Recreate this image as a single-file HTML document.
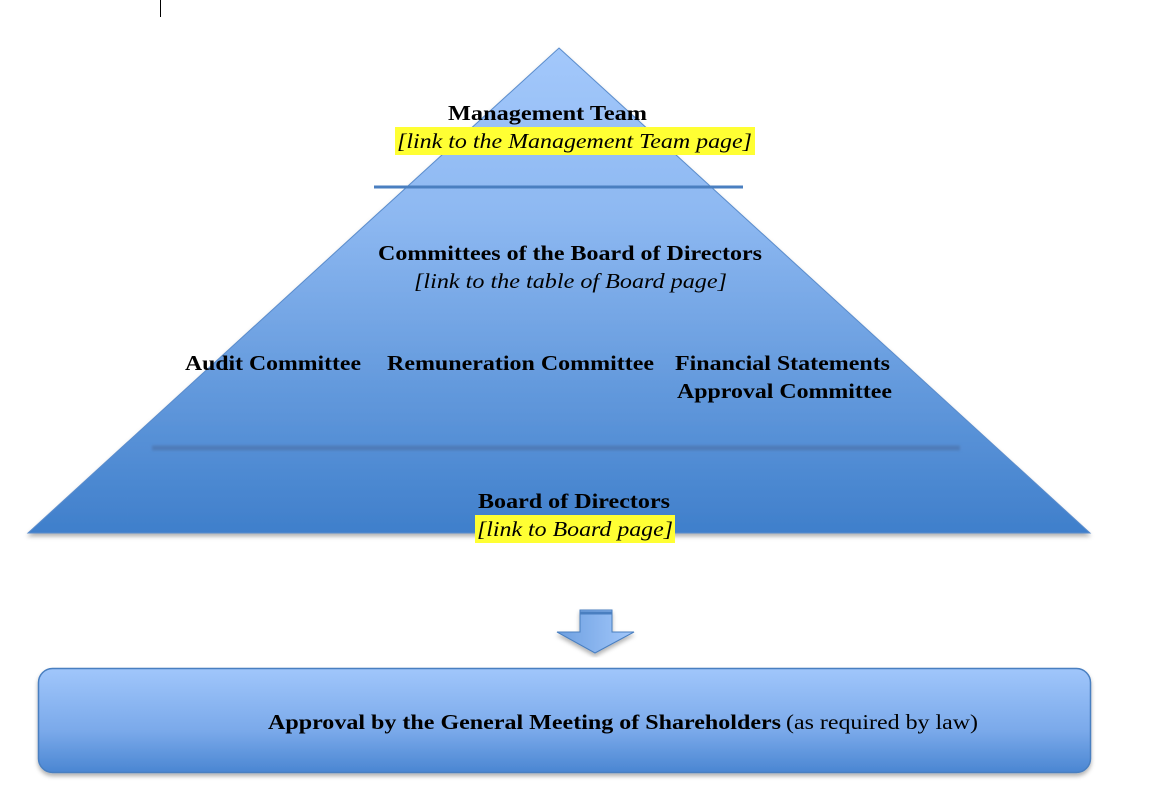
<!DOCTYPE html>
<html><head><meta charset="utf-8"><style>
html,body{margin:0;padding:0;background:#fff;}
svg{display:block;}
text{font-family:"Liberation Serif",serif;font-size:21px;fill:#000;}
.b{font-weight:bold;}
.i{font-style:italic;}
</style></head><body>
<svg width="1162" height="806" viewBox="0 0 1162 806">
<defs>
<linearGradient id="tg" x1="0" y1="48" x2="0" y2="533" gradientUnits="userSpaceOnUse">
<stop offset="0" stop-color="#a3c8fb"/><stop offset="0.35" stop-color="#8db8f1"/><stop offset="1" stop-color="#3f7fcb"/>
</linearGradient>
<linearGradient id="bg" x1="0" y1="0" x2="0" y2="1">
<stop offset="0" stop-color="#a0c6fb"/><stop offset="0.6" stop-color="#7aa9ea"/><stop offset="1" stop-color="#4a86d2"/>
</linearGradient>
<linearGradient id="ag" x1="0" y1="0" x2="1" y2="0">
<stop offset="0" stop-color="#6d9fe0"/><stop offset="1" stop-color="#a3c8fb"/>
</linearGradient>
<filter id="sh" x="-5%" y="-5%" width="110%" height="115%"><feDropShadow dx="0" dy="3" stdDeviation="2" flood-color="#000" flood-opacity="0.3"/></filter>
<filter id="bl" x="-5%" y="-100%" width="110%" height="300%"><feGaussianBlur stdDeviation="1.2"/></filter>
</defs>
<line x1="160.5" y1="0" x2="160.5" y2="17" stroke="#000" stroke-width="1"/>
<polygon points="559,48 1090,533 28,533" fill="url(#tg)" stroke="#5a8ccc" stroke-width="1" filter="url(#sh)"/>
<line x1="374" y1="187" x2="743" y2="187" stroke="#4a7fc0" stroke-width="3"/>
<rect x="152" y="445.5" width="808" height="5" fill="#4f7cb8" filter="url(#bl)"/>
<rect x="395" y="127" width="360" height="28" fill="#ffff33"/>
<rect x="475" y="515" width="200" height="28" fill="#ffff33"/>
<text class="b" x="448" y="120" textLength="199" lengthAdjust="spacingAndGlyphs">Management Team</text>
<text class="i" x="397" y="148" textLength="355" lengthAdjust="spacingAndGlyphs">[link to the Management Team page]</text>
<text class="b" x="378" y="260" textLength="384" lengthAdjust="spacingAndGlyphs">Committees of the Board of Directors</text>
<text class="i" x="414" y="288" textLength="313" lengthAdjust="spacingAndGlyphs">[link to the table of Board page]</text>
<text class="b" x="185" y="370" textLength="176" lengthAdjust="spacingAndGlyphs">Audit Committee</text>
<text class="b" x="387" y="370" textLength="267" lengthAdjust="spacingAndGlyphs">Remuneration Committee</text>
<text class="b" x="675" y="370" textLength="215" lengthAdjust="spacingAndGlyphs">Financial Statements</text>
<text class="b" x="677" y="398" textLength="215" lengthAdjust="spacingAndGlyphs">Approval Committee</text>
<text class="b" x="478" y="508" textLength="192" lengthAdjust="spacingAndGlyphs">Board of Directors</text>
<text class="i" x="477" y="536" textLength="196" lengthAdjust="spacingAndGlyphs">[link to Board page]</text>
<polygon points="580,610 612,610 612,632 634,632 595,653 557,632 580,632" fill="url(#ag)" stroke="#4a7fc0" stroke-width="1" filter="url(#sh)"/>
<line x1="580" y1="613" x2="612" y2="613" stroke="#4a7fc0" stroke-width="3"/>
<rect x="38.5" y="668.5" width="1052" height="104" rx="14" fill="url(#bg)" stroke="#4a7fc0" stroke-width="1.5" filter="url(#sh)"/>
<text class="b" x="268" y="729" textLength="513" lengthAdjust="spacingAndGlyphs">Approval by the General Meeting of Shareholders</text>
<text x="786" y="729" textLength="192" lengthAdjust="spacingAndGlyphs">(as required by law)</text>
</svg>
</body></html>
